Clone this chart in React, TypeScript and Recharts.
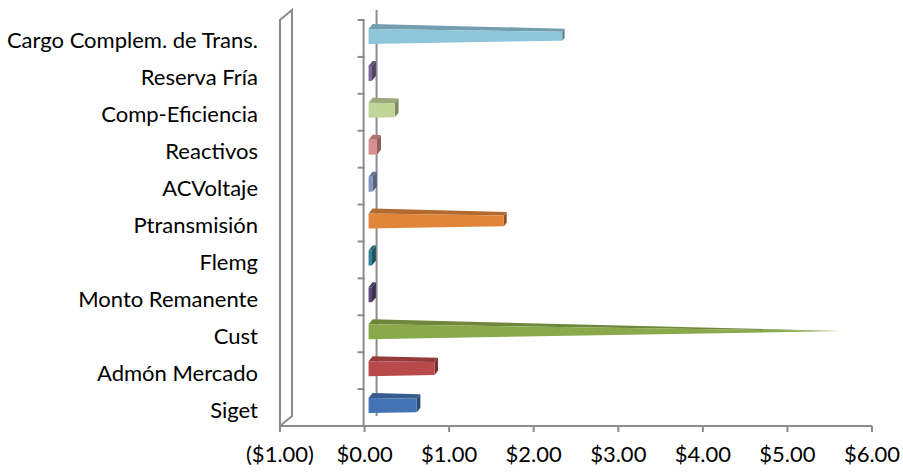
import React from 'react';
import { BarChart, Bar, XAxis, YAxis, ReferenceLine } from 'recharts';

const categories = [
  'Cargo Complem. de Trans.',
  'Reserva Fría',
  'Comp-Eficiencia',
  'Reactivos',
  'ACVoltaje',
  'Ptransmisión',
  'Flemg',
  'Monto Remanente',
  'Cust',
  'Admón Mercado',
  'Siget',
];
const values = [2.29, 0.04, 0.31, 0.1, 0.05, 1.6, 0.04, 0.04, 5.58, 0.78, 0.57];
const xTicks = [-1, 0, 1, 2, 3, 4, 5, 6];

const barColors = [
  '#8EC5DA', '#7A6A9C', '#C2D598', '#D7908E', '#7E95C2', '#E0853A',
  '#2F8298', '#5B4678', '#89A94A', '#B9494A', '#4473B4',
];

const AXIS = '#8C8C8C';
const FONT = 'Lato, "Open Sans", sans-serif';

// darken a hex colour by factor k
const shade = (hex: string, k: number) => {
  const n = parseInt(hex.slice(1), 16);
  const r = Math.round(((n >> 16) & 255) * k);
  const g = Math.round(((n >> 8) & 255) * k);
  const b = Math.round((n & 255) * k);
  return `rgb(${r},${g},${b})`;
};

// fake 3D bar with perspective taper like the old Excel chart
const Bar3D = (props: any) => {
  const { x, y, width, height, index } = props;
  const fill = barColors[index % barColors.length];
  const x0 = x + 4;
  const len = Math.max(width, 0);
  const x1 = x0 + len;
  const f = Math.max(0, 1 - len / 476);
  const top = y - 2;
  const bot = y + height - 2;
  const shrink = (1 - f) * (bot - top);
  const t1 = top + shrink * 0.45;
  const b1 = bot - shrink * 0.55;
  const dx = 4;
  const dy = 5;
  const front = `M${x0},${top} L${x1},${t1} L${x1},${b1} L${x0},${bot} Z`;
  const topFace = `M${x0},${top} L${x0 + dx},${top - dy} L${x1 + dx * f},${t1 - dy * f} L${x1},${t1} Z`;
  const side = `M${x1},${t1} L${x1 + dx * f},${t1 - dy * f} L${x1 + dx * f},${b1 - dy * f} L${x1},${b1} Z`;
  return (
    <g>
      <path d={topFace} fill={shade(fill, 0.8)} />
      <path d={side} fill={shade(fill, 0.65)} />
      <path d={front} fill={fill} />
    </g>
  );
};

// category axis at zero, with the back-plane line behind the bars
const ZeroAxis = (p: any) => {
  const top = Math.min(p.y1, p.y2);
  const bot = Math.max(p.y1, p.y2);
  const x = p.x1;
  const n = categories.length;
  const marks = [];
  for (let i = 0; i <= n; i++) {
    const yy = top + ((bot - top) * i) / n;
    marks.push(<line key={i} x1={x - 7} x2={x} y1={yy} y2={yy} />);
  }
  return (
    <g stroke={AXIS} strokeWidth={2}>
      <line x1={x + 12} y1={top - 10} x2={x + 12} y2={bot - 10} />
      <line x1={x - 1} y1={top} x2={x - 1} y2={bot} />
      {marks}
    </g>
  );
};

// thin side wall at the left end of the value axis
const LeftWall = (p: any) => {
  const top = Math.min(p.y1, p.y2);
  const bot = Math.max(p.y1, p.y2);
  const x = p.x1;
  return (
    <g stroke={AXIS} strokeWidth={2} fill="none">
      <path d={`M${x},${bot} L${x},${top} L${x + 12},${top - 10} L${x + 12},${bot - 10} L${x},${bot}`} />
    </g>
  );
};

const CatTick = ({ x, y, payload }: any) => (
  <text x={x} y={y + 10} textAnchor="end" fill="#000" fontSize={22} fontFamily={FONT}>
    {payload.value}
  </text>
);

const money = (v: number) => (v < 0 ? `($${Math.abs(v).toFixed(2)})` : `$${v.toFixed(2)}`);

export default function App() {
  const data = categories.map((name, i) => ({ name, value: values[i] }));

  return (
    <div style={{ position: 'absolute', left: 0, top: 0, width: 903, height: 472, background: '#fff' }}>
      <BarChart
        width={903}
        height={472}
        data={data}
        layout="vertical"
        margin={{ top: 20, right: 31, left: 0, bottom: 0 }}
        barSize={15}
      >
        <XAxis
          type="number"
          domain={[-1, 6]}
          ticks={xTicks}
          allowDataOverflow
          height={46}
          tickFormatter={money}
          axisLine={{ stroke: AXIS, strokeWidth: 2 }}
          tickLine={{ stroke: AXIS, strokeWidth: 2 }}
          tickSize={6}
          tickMargin={14}
          tick={{ fill: '#000', fontSize: 22, fontFamily: FONT }}
        />
        <YAxis
          type="category"
          dataKey="name"
          width={280}
          axisLine={false}
          tickLine={false}
          tickSize={0}
          tickMargin={22}
          interval={0}
          tick={<CatTick />}
        />
        <ReferenceLine x={-1} ifOverflow="visible" shape={LeftWall} zIndex={0} />
        <ReferenceLine x={0} ifOverflow="visible" shape={ZeroAxis} zIndex={0} />
        <Bar dataKey="value" isAnimationActive={false} shape={Bar3D} />
      </BarChart>
    </div>
  );
}
